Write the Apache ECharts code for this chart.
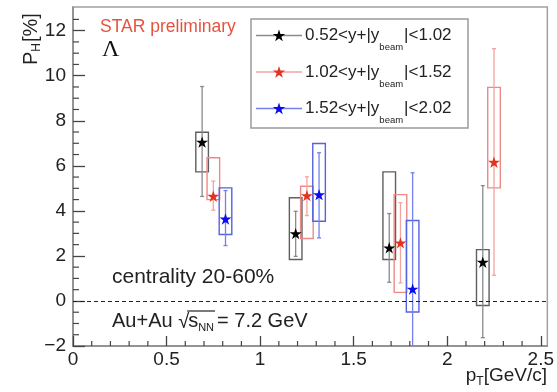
<!DOCTYPE html>
<html>
<head>
<meta charset="utf-8">
<script src="https://cdn.jsdelivr.net/npm/echarts@6.0.0/dist/echarts.min.js"></script>
<style>
html,body{margin:0;padding:0;background:#fff;}
#main{width:557px;height:392px;}
</style>
</head>
<body>
<div id="main"></div>
<script>
// ---------------- data ----------------
const ptBlack = [0.69, 1.19, 1.69, 2.19];
const phBlack = [7.05, 2.99, 2.36, 1.72];
const statLoBlack = [4.64, 1.98, 0.83, -1.63];
const statHiBlack = [9.52, 3.98, 3.88, 5.12];
const sysLoBlack = [5.73, 1.84, 1.84, -0.20];
const sysHiBlack = [7.49, 4.58, 5.73, 2.28];

const ptRed = [0.75, 1.25, 1.75, 2.25];
const phRed = [4.65, 4.68, 2.58, 6.16];
const statLoRed = [4.03, 3.79, 0.80, 1.14];
const statHiRed = [5.32, 5.51, 4.36, 11.20];
const sysLoRed = [4.50, 2.77, 0.38, 5.02];
const sysHiRed = [6.36, 5.09, 4.72, 9.48];

const ptBlue = [0.815, 1.315, 1.815];
const phBlue = [3.64, 4.72, 0.53];
const statLoBlue = [2.46, 2.80, -4.63];
const statHiBlue = [4.90, 6.58, 5.69];
const sysLoBlue = [2.95, 3.54, -0.49];
const sysHiBlue = [5.02, 6.99, 3.57];

const legendLow = ['0.52', '1.02', '1.52'];
const legendHigh = ['1.02', '1.52', '2.02'];

const xTickLabels = [0, 0.5, 1, 1.5, 2, 2.5];
const yTickLabels = [-2, 0, 2, 4, 6, 8, 10, 12];

// ---------------- styling ----------------
const FONT = '"Liberation Sans", Arial, Helvetica, sans-serif';
const STAR = 'path://M0,-10L2.245,-3.09L9.51,-3.09L3.633,1.18L5.878,8.09L0,3.82L-5.878,8.09L-3.633,1.18L-9.51,-3.09L-2.245,-3.09Z';
function starPoints(cx, cy, r) {
  const pts = [];
  for (let i = 0; i < 10; i++) {
    const rr = i % 2 === 0 ? r : r * 0.382;
    const a = -Math.PI / 2 + i * Math.PI / 5;
    pts.push([cx + rr * Math.cos(a), cy + rr * Math.sin(a)]);
  }
  return pts;
}
const groups = [
  {name:'black', pt:ptBlack, ph:phBlack, sl:statLoBlack, sh:statHiBlack, yl:sysLoBlack, yh:sysHiBlack,
   star:'#000000', box:'#5f5f5f', err:'#8a8a8a'},
  {name:'red', pt:ptRed, ph:phRed, sl:statLoRed, sh:statHiRed, yl:sysLoRed, yh:sysHiRed,
   star:'#e5321f', box:'#ee8a86', err:'#f2a4a0'},
  {name:'blue', pt:ptBlue, ph:phBlue, sl:statLoBlue, sh:statHiBlue, yl:sysLoBlue, yh:sysHiBlue,
   star:'#0a0af0', box:'#5563e0', err:'#7381ec'}
];
const BOX_HALF = 6.3;
const X_MIN = 0, X_MAX = 2.535, Y_MIN = -2, Y_MAX = 13.05;
const TICK_COLOR = '#444';

const xMinor = [];
for (let i = 0; i <= 25; i++) if (i % 5) xMinor.push(+(i * 0.1).toFixed(2));
const yMinor = [];
for (let i = 0; i <= 29; i++) if (i % 4) yMinor.push(-2 + i * 0.5);

const ctx = document.createElement('canvas').getContext('2d');
function tw(text, size) { ctx.font = size + 'px ' + FONT; return ctx.measureText(text).width; }

function makeRender(g) {
  return function (params, api) {
    const x = api.value(0);
    const pc = api.coord([x, api.value(1)]);
    const pSL = api.coord([x, api.value(4)]);
    const pSH = api.coord([x, api.value(5)]);
    const pEL = api.coord([x, api.value(2)]);
    const pEH = api.coord([x, api.value(3)]);
    const cx = pc[0];
    return {
      type: 'group',
      children: [
        {type:'rect', shape:{x:cx-BOX_HALF, y:pSH[1], width:2*BOX_HALF, height:pSL[1]-pSH[1]},
         style:{fill:'none', stroke:g.box, lineWidth:1.4}},
        {type:'line', shape:{x1:cx, y1:pEH[1], x2:cx, y2:pEL[1]}, style:{stroke:g.err, lineWidth:1.3}},
        {type:'line', shape:{x1:cx-2, y1:pEH[1], x2:cx+2, y2:pEH[1]}, style:{stroke:g.err, lineWidth:1.3}},
        {type:'line', shape:{x1:cx-2, y1:pEL[1], x2:cx+2, y2:pEL[1]}, style:{stroke:g.err, lineWidth:1.3}}
      ]
    };
  };
}

const series = [];
// minor ticks (positioned through the axis scales)
series.push({
  type:'custom', name:'xminor', silent:true, z:1, clip:false,
  renderItem:function (params, api) {
    const p = api.coord([api.value(0), Y_MIN]);
    return {type:'line', shape:{x1:p[0], y1:p[1], x2:p[0], y2:p[1] - 5}, style:{stroke:TICK_COLOR, lineWidth:1.2}};
  },
  data: xMinor.map(function (v) { return [v, Y_MIN]; })
});
series.push({
  type:'custom', name:'yminor', silent:true, z:1, clip:false,
  renderItem:function (params, api) {
    const p = api.coord([X_MIN, api.value(1)]);
    return {type:'line', shape:{x1:p[0], y1:p[1], x2:p[0] + 6, y2:p[1]}, style:{stroke:TICK_COLOR, lineWidth:1.2}};
  },
  data: yMinor.map(function (v) { return [X_MIN, v]; })
});
groups.forEach(function (g) {
  series.push({
    type:'custom', name:g.name + '_err', clip:true, z:2,
    renderItem: makeRender(g),
    encode:{x:0, y:1},
    data: g.pt.map(function (p, i) { return [p, g.ph[i], g.sl[i], g.sh[i], g.yl[i], g.yh[i]]; })
  });
});
groups.forEach(function (g, k) {
  const s = {
    type:'scatter', name:g.name, z:5,
    symbol:STAR, symbolKeepAspect:true, symbolSize:12,
    itemStyle:{color:g.star, opacity:1},
    data: g.pt.map(function (p, i) { return [p, g.ph[i]]; })
  };
  if (k === 0) {
    s.markLine = {
      silent:true, symbol:'none', label:{show:false}, animation:false,
      lineStyle:{color:'#222', type:[4,3], width:1},
      data:[{yAxis:0}]
    };
  }
  series.push(s);
});

// ---------------- text / legend graphics ----------------
const graphic = [];
function txt(x, y, text, size, color, extra) {
  return {type:'text', x:x, y:y, silent:true,
    style:Object.assign({text:text, fontSize:size, fontFamily:FONT, fill:color || '#222',
      textAlign:'left', textVerticalAlign:'middle'}, extra || {})};
}
graphic.push(txt(100, 27, 'STAR preliminary', 17.5, '#e5533f'));
graphic.push(txt(102, 50, 'Λ', 24, '#111', {fontFamily:'"Liberation Serif", "DejaVu Serif", serif'}));
graphic.push(txt(112, 277, 'centrality 20-60%', 21, '#222'));

// Au+Au sqrt(s_NN) = 7.2 GeV
(function () {
  const fs = 20, y = 321;
  let x = 112;
  const a = 'Au+Au ';
  graphic.push(txt(x, y, a, fs)); x += tw(a, fs);
  graphic.push(txt(x, y + 1, '√', fs)); x += tw('√', fs) - 1;
  const x0 = x;
  graphic.push(txt(x, y, 's', fs)); x += tw('s', fs);
  graphic.push(txt(x, y + 7, 'NN', 11)); x += tw('NN', 11);
  graphic.push({type:'line', silent:true, shape:{x1:x0 - 1, y1:y - 10, x2:x + 1, y2:y - 10}, style:{stroke:'#222', lineWidth:1.2}});
  graphic.push(txt(x + 3, y, '= 7.2 GeV', fs));
})();

// x axis title
(function () {
  const fs = 19, y = 376;
  const parts = [['p', fs, 0], ['T', 12, 6], ['[GeV/c]', fs, 0]];
  let total = 0;
  parts.forEach(function (p) { total += tw(p[0], p[1]); });
  let x = 547 - total;
  parts.forEach(function (p) { graphic.push(txt(x, y + p[2], p[0], p[1])); x += tw(p[0], p[1]); });
})();

// y axis title (rotated)
(function () {
  const fs = 20;
  const wP = tw('P', fs), wH = tw('H', 12);
  graphic.push({type:'group', x:31, y:65, rotation:Math.PI / 2, silent:true, children:[
    txt(0, 0, 'P', fs), txt(wP, 6, 'H', 12), txt(wP + wH + 1, 0, '[%]', fs)
  ]});
})();

// legend
(function () {
  graphic.push({type:'rect', silent:true, shape:{x:251, y:19, width:217, height:109},
    style:{fill:'#fff', stroke:'#9a9a9a', lineWidth:1.5}, z:10});
  const rows = [35.5, 72, 108.5];
  groups.forEach(function (g, i) {
    const y = rows[i];
    graphic.push({type:'line', silent:true, z:11, shape:{x1:256, y1:y, x2:302, y2:y}, style:{stroke:g.err, lineWidth:1.3}});
    graphic.push({type:'polygon', silent:true, z:12, shape:{points:starPoints(279, y + 0.5, 6.5)}, style:{fill:g.star}});
    const fs = 17;
    let x = 305;
    const t1 = legendLow[i] + '<y+|y';
    const t2 = '|<' + legendHigh[i];
    const o1 = txt(x, y, t1, fs); o1.z = 12; graphic.push(o1); x += tw(t1, fs);
    const o2 = txt(x, y + 12, 'beam', 9.5); o2.z = 12; graphic.push(o2); x += tw('beam', 9.5);
    const o3 = txt(x + 1, y, t2, fs); o3.z = 12; graphic.push(o3);
  });
})();

// ---------------- chart ----------------
const chart = echarts.init(document.getElementById('main'), null, {renderer:'canvas'});
const axisLineStyle = {color:'#888', width:1.5};
chart.setOption({
  animation:false,
  backgroundColor:'#ffffff',
  grid:{left:73, right:8, top:7, bottom:46, show:true, borderColor:'#a0a0a0', borderWidth:1.5, backgroundColor:'transparent'},
  xAxis:{type:'value', min:X_MIN, max:X_MAX, position:'bottom',
     axisLine:{show:true, onZero:false, lineStyle:axisLineStyle},
     axisTick:{show:true, inside:true, length:10, customValues:xTickLabels, lineStyle:{color:TICK_COLOR, width:1.3}},
     axisLabel:{show:true, customValues:xTickLabels, margin:4, fontSize:19, fontFamily:FONT, color:'#222',
       formatter:function (v) { return String(v); }},
     splitLine:{show:false}},
  yAxis:{type:'value', min:Y_MIN, max:Y_MAX, position:'left',
     axisLine:{show:true, onZero:false, lineStyle:axisLineStyle},
     axisTick:{show:true, inside:true, length:12, customValues:yTickLabels, lineStyle:{color:TICK_COLOR, width:1.3}},
     axisLabel:{show:true, customValues:yTickLabels, margin:7, fontSize:19, fontFamily:FONT, color:'#222',
       formatter:function (v) { return v < 0 ? '\u2212' + Math.abs(v) : String(v); }},
     splitLine:{show:false}},
  series:series,
  graphic:graphic
});
</script>
</body>
</html>
